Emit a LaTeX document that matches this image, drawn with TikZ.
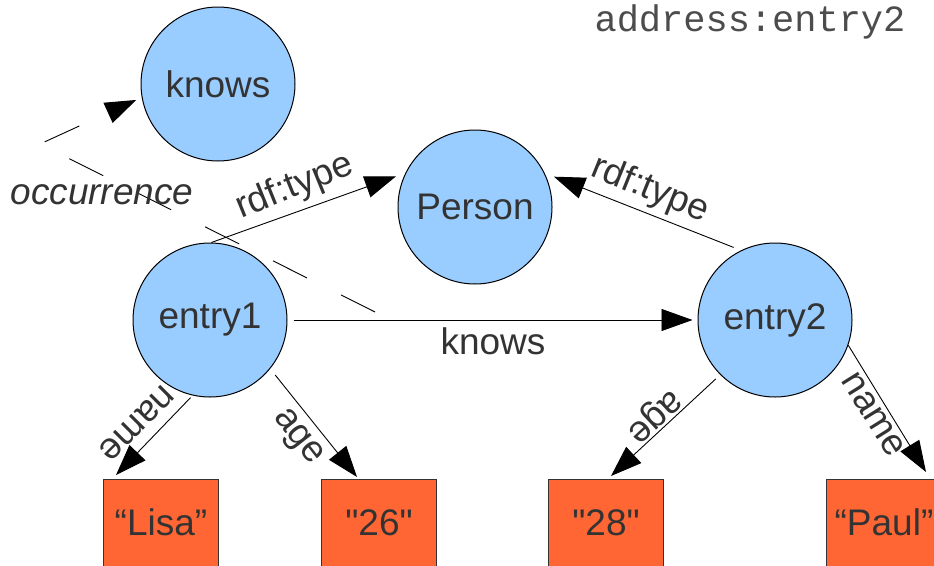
\documentclass[tikz,border=0pt]{standalone}
\usepackage{fontspec}
\setmainfont{Liberation Sans}[Ligatures=TeXOff]
\newfontfamily\addrfont{Liberation Mono}
\usetikzlibrary{arrows.meta,calc}
\definecolor{circfill}{HTML}{99CCFF}
\definecolor{boxfill}{HTML}{FF6633}
\definecolor{txt}{HTML}{333333}
\newcommand\dgfont{\fontsize{37}{44}\selectfont}
\begin{document}
\begin{tikzpicture}[x=1pt,y=-1pt,
  every node/.style={font=\dgfont, text=txt},
  res/.style={circle, draw=black, line width=1pt, fill=circfill, minimum size=154pt, inner sep=0pt},
  lit/.style={rectangle, draw=black!80, line width=1pt, fill=boxfill, minimum width=115pt, minimum height=115pt, anchor=north west, inner sep=0pt, text height=27pt, text depth=30pt},
  rel/.style={draw=black, line width=0.9pt, -{Triangle[length=31pt,width=22pt]}},
  lbl/.style={inner sep=0pt}
]
\useasboundingbox (0,0) rectangle (934,565);
\clip (0,0) rectangle (934,565);
\fill[white] (0,0) rectangle (934,565);

% resources
\node[res] (knows) at (218,84) {knows};
\node[res] (person) at (475,207) {Person};
\node[res] (e1) at (210,320) {entry1};
\node[res] (e2) at (775,320) {entry2};

% literals
\node[lit] (lisa) at (103,479) {“Lisa”};
\node[lit] (n26) at (321,479) {"26"};
\node[lit] (n28) at (548,479) {"28"};
\node[lit] (paul) at (826,479) {“Paul”};

% edges
\draw[rel, shorten >=10pt] (e1.89) -- (person.154);
\draw[rel, shorten <=8pt, shorten >=10pt] (e2.116) -- (person.26);
\draw[rel, shorten <=6pt, shorten >=5pt] (e1.east) -- (e2.west);
\draw[rel, shorten <=3pt] (e1.257) -- ($(lisa.north west)+(13,-4)$);
\draw[rel, shorten <=8pt] (e1.321) -- ($(n26.north west)+(36,-2)$);
\draw[rel, shorten <=6pt] (e2.225) -- ($(n28.north west)+(63,-3)$);
\draw[rel] (e2.341) -- ($(paul.north west)+(100,-7)$);

% occurrence (dashed)
\coordinate (dstart) at (375,312);
\coordinate (dbend) at (40,144);
\draw[line width=0.9pt, dash pattern=on 38pt off 38pt, -{Triangle[length=31pt,width=22pt]}, shorten >=6pt] (dstart) -- (dbend) -- (knows.190);

% labels
\node[lbl, rotate=22] (l1) at (295,187) {rdf:type};
\node[lbl, rotate=-22] (l2) at (650,190) {rdf:type};
\node[lbl] (l3) at (493,341) {knows};
\node[lbl, rotate=225] (l4) at (137,423) {name};
\node[lbl, rotate=-52] (l5) at (297,438) {age};
\node[lbl, rotate=223] (l6) at (653,415) {age};
\node[lbl, rotate=-58] (l7) at (873,415) {name};
\node[lbl, font=\dgfont\itshape] (l8) at (102,195) {occurrence};
\node[lbl, font=\addrfont\dgfont, text=black!70] (addr) at (750,22) {address:entry2};
\end{tikzpicture}
\end{document}
